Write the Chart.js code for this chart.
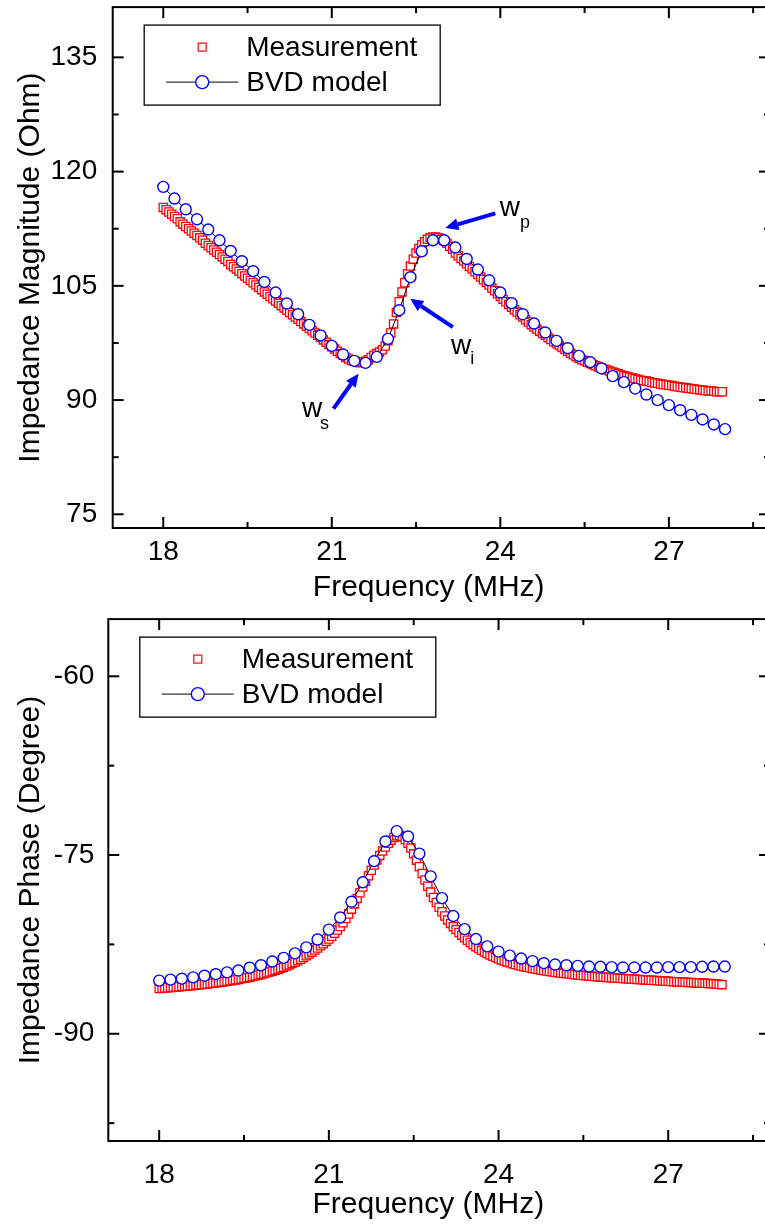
<!DOCTYPE html>
<html>
<head>
<meta charset="utf-8">
<script src="https://cdn.jsdelivr.net/npm/chart.js@4.4.1/dist/chart.umd.min.js"></script>
<style>
  html, body { margin: 0; padding: 0; background: #fff; overflow: hidden; }
  #wrap { width: 765px; height: 1224px; overflow: hidden; position: relative; }
  canvas { display: block; position: absolute; left: 0; }
</style>
</head>
<body>
<div id="wrap">
  <canvas id="magChart" width="780" height="612" style="top:0"></canvas>
  <canvas id="phaseChart" width="780" height="612" style="top:612px"></canvas>
</div>
<script>
const FONT = "'Liberation Sans', Arial, Helvetica, sans-serif";

// measured sweep: 18.00 .. 27.95 MHz, 0.05 MHz apart
const measStart = 18.0;
const measStep = 0.05;

// BVD model evaluated every 0.2 MHz
const modelFreq = [18.0, 18.2, 18.4, 18.6, 18.8, 19.0, 19.2, 19.4, 19.6, 19.8,
  20.0, 20.2, 20.4, 20.6, 20.8, 21.0, 21.2, 21.4, 21.6, 21.8,
  22.0, 22.2, 22.4, 22.6, 22.8, 23.0, 23.2, 23.4, 23.6, 23.8,
  24.0, 24.2, 24.4, 24.6, 24.8, 25.0, 25.2, 25.4, 25.6, 25.8,
  26.0, 26.2, 26.4, 26.6, 26.8, 27.0, 27.2, 27.4, 27.6, 27.8, 28.0];

// |Z| in Ohm
const magMeasured = [
  115.3, 115.0, 114.7, 114.4, 114.1, 113.8, 113.4, 113.1, 112.8, 112.5,
  112.2, 111.9, 111.6, 111.3, 111.0, 110.6, 110.3, 110.0, 109.7, 109.4,
  109.1, 108.8, 108.5, 108.2, 107.8, 107.5, 107.2, 106.9, 106.6, 106.3,
  106.0, 105.7, 105.4, 105.1, 104.8, 104.5, 104.2, 103.9, 103.6, 103.3,
  103.0, 102.7, 102.4, 102.1, 101.8, 101.5, 101.2, 100.9, 100.6, 100.3,
  100.0, 99.7, 99.4, 99.1, 98.8, 98.5, 98.2, 97.9, 97.6, 97.3,
  97.0, 96.7, 96.4, 96.1, 95.9, 95.6, 95.4, 95.2, 95.1, 95.0,
  94.9, 95.0, 95.1, 95.3, 95.6, 95.9, 96.1, 96.3, 96.6, 97.1,
  97.8, 98.8, 100.0, 101.5, 102.9, 104.2, 105.4, 106.6, 107.6, 108.5,
  109.3, 109.9, 110.4, 110.8, 111.1, 111.3, 111.4, 111.4, 111.3, 111.1,
  110.9, 110.6, 110.2, 109.8, 109.3, 108.95, 108.6, 108.25, 107.9, 107.55,
  107.2, 106.85, 106.5, 106.15, 105.8, 105.45, 105.1, 104.7, 104.35, 103.95,
  103.6, 103.25, 102.9, 102.55, 102.2, 101.85, 101.55, 101.2, 100.9, 100.55,
  100.25, 99.9, 99.6, 99.3, 99.05, 98.75, 98.5, 98.2, 97.95, 97.65,
  97.4, 97.15, 96.9, 96.65, 96.4, 96.15, 95.95, 95.7, 95.5, 95.3,
  95.15, 94.95, 94.8, 94.65, 94.5, 94.35, 94.2, 94.05, 93.95, 93.8,
  93.7, 93.55, 93.45, 93.3, 93.2, 93.1, 93.0, 92.9, 92.8, 92.7,
  92.6, 92.55, 92.5, 92.4, 92.3, 92.25, 92.2, 92.1, 92.05, 92.0,
  91.95, 91.9, 91.8, 91.75, 91.7, 91.65, 91.6, 91.55, 91.5, 91.45,
  91.4, 91.35, 91.3, 91.25, 91.2, 91.2, 91.15, 91.1, 91.1, 91.1];

const magModel = [
  118.0, 116.46, 115.05, 113.74, 112.39, 110.98, 109.58, 108.23, 106.92, 105.51,
  104.12, 102.68, 101.27, 99.87, 98.48, 97.11, 95.98, 95.14, 94.88, 95.67,
  98.03, 101.8, 106.13, 109.54, 110.98, 110.98, 110.03, 108.53, 107.14, 105.73,
  104.12, 102.72, 101.27, 100.05, 98.87, 97.77, 96.81, 95.8, 94.97, 94.15,
  93.14, 92.35, 91.52, 90.73, 89.99, 89.33, 88.67, 88.06, 87.45, 86.8, 86.18];

// phase in degrees
const phaseMeasured = [
  -86.20, -86.18, -86.16, -86.14, -86.12, -86.10, -86.08, -86.06, -86.04, -86.02,
  -86.00, -85.97, -85.95, -85.92, -85.90, -85.87, -85.85, -85.82, -85.79, -85.76,
  -85.73, -85.70, -85.67, -85.63, -85.60, -85.56, -85.52, -85.48, -85.44, -85.39,
  -85.35, -85.30, -85.25, -85.20, -85.14, -85.08, -85.02, -84.96, -84.89, -84.82,
  -84.75, -84.68, -84.60, -84.51, -84.42, -84.32, -84.22, -84.11, -84.00, -83.88,
  -83.75, -83.61, -83.46, -83.31, -83.15, -82.98, -82.80, -82.62, -82.44, -82.25,
  -82.05, -81.82, -81.57, -81.30, -81.00, -80.68, -80.33, -79.95, -79.54, -79.10,
  -78.64, -78.17, -77.69, -77.21, -76.74, -76.28, -75.84, -75.42, -75.03, -74.66,
  -74.32, -74.02, -73.75, -73.52, -73.38, -73.36, -73.47, -73.70, -74.02, -74.42,
  -74.90, -75.43, -75.98, -76.55, -77.10, -77.62, -78.11, -78.57, -78.99, -79.38,
  -79.76, -80.12, -80.45, -80.74, -81.01, -81.26, -81.50, -81.73, -81.95, -82.15,
  -82.34, -82.52, -82.69, -82.85, -83.00, -83.14, -83.27, -83.39, -83.50, -83.61,
  -83.71, -83.80, -83.89, -83.97, -84.05, -84.12, -84.19, -84.25, -84.31, -84.37,
  -84.42, -84.47, -84.52, -84.57, -84.61, -84.65, -84.69, -84.73, -84.77, -84.80,
  -84.84, -84.87, -84.90, -84.93, -84.96, -84.99, -85.01, -85.04, -85.06, -85.09,
  -85.11, -85.13, -85.15, -85.17, -85.19, -85.21, -85.23, -85.25, -85.27, -85.28,
  -85.30, -85.32, -85.33, -85.35, -85.36, -85.38, -85.39, -85.41, -85.42, -85.44,
  -85.45, -85.47, -85.48, -85.50, -85.51, -85.53, -85.54, -85.56, -85.57, -85.59,
  -85.60, -85.61, -85.63, -85.64, -85.65, -85.67, -85.68, -85.69, -85.70, -85.72,
  -85.73, -85.74, -85.75, -85.77, -85.78, -85.79, -85.81, -85.83, -85.85, -85.88];

const phaseModel = [
  -85.54, -85.46, -85.38, -85.27, -85.13, -85.00, -84.85, -84.69, -84.46, -84.25,
  -83.94, -83.63, -83.25, -82.75, -82.09, -81.26, -80.24, -78.92, -77.29, -75.52,
  -73.86, -72.99, -73.44, -74.88, -76.79, -78.62, -80.12, -81.22, -82.05, -82.67,
  -83.11, -83.44, -83.69, -83.90, -84.08, -84.19, -84.25, -84.30, -84.36, -84.38,
  -84.41, -84.44, -84.44, -84.44, -84.44, -84.41, -84.41, -84.41, -84.38, -84.36, -84.36];

// axis ticks
const xTicks = [18, 21, 24, 27];
const xMinor = [19.5, 22.5, 25.5, 28.5];
const magTicks = [75, 90, 105, 120, 135];
const magMinor = [82.5, 97.5, 112.5, 127.5];
const phaseTicks = [-90, -75, -60];
const phaseMinor = [-97.5, -82.5, -67.5];

// resonance markers on |Z|: arrow tip/tail and label centres in (MHz, Ohm)
const magMarks = [
  { name: 'w', sub: 's', tip: [21.475, 93.46], tail: [21.03, 88.87], at: [20.65, 88.65], subAt: [20.87, 86.82] },
  { name: 'w', sub: 'i', tip: [22.395, 103.29], tail: [23.155, 99.57], at: [23.30, 96.91], subAt: [23.50, 95.33] },
  { name: 'w', sub: 'p', tip: [23.02, 112.6], tail: [23.91, 114.51], at: [24.17, 115.13], subAt: [24.44, 113.29] }
];

const measFreq = magMeasured.map((_, i) => +(measStart + i * measStep).toFixed(2));

function toPoints(xs, ys) {
  return ys.map((v, i) => ({ x: xs[i], y: v }));
}

function strokeLine(ctx, x1, y1, x2, y2) {
  ctx.beginPath();
  ctx.moveTo(x1, y1);
  ctx.lineTo(x2, y2);
  ctx.stroke();
}

// keep the plot box where it is asked to be: no extra room for edge labels
function noPadding(s) {
  s.paddingLeft = 0;
  s.paddingRight = 0;
  s.paddingTop = 0;
  s.paddingBottom = 0;
}

// box frame with inward ticks on all four sides
const framePlugin = {
  id: 'frame',
  afterDatasetsDraw(chart, args, o) {
    const { ctx, chartArea: a } = chart;
    const x = chart.scales.x, y = chart.scales.y;
    ctx.save();
    ctx.strokeStyle = '#000';
    ctx.lineWidth = 2;
    const xt = (vals, len) => vals.forEach(v => {
      const p = x.getPixelForValue(v);
      strokeLine(ctx, p, a.bottom, p, a.bottom - len);
      strokeLine(ctx, p, a.top, p, a.top + len);
    });
    const yt = (vals, len) => vals.forEach(v => {
      const p = y.getPixelForValue(v);
      strokeLine(ctx, a.left, p, a.left + len, p);
      strokeLine(ctx, a.right, p, a.right - len, p);
    });
    xt(o.xMajor, 11); xt(o.xMinor, 6);
    yt(o.yMajor, 11); yt(o.yMinor, 6);
    ctx.strokeRect(a.left, a.top, a.right - a.left, a.bottom - a.top);
    ctx.restore();
  }
};

// framed legend drawn from the dataset styles
const legendPlugin = {
  id: 'boxLegend',
  afterDraw(chart, args, o) {
    const { ctx, chartArea: a } = chart;
    const bx = a.left + o.left, by = a.top + o.top;
    const [model, meas] = chart.data.datasets;
    ctx.save();
    ctx.strokeStyle = '#000';
    ctx.lineWidth = 1.3;
    ctx.strokeRect(bx, by, o.width, o.height);

    const sx = bx + 58;
    const r1 = by + 22, r2 = by + 57;
    // measurement sample
    ctx.fillStyle = '#fff';
    ctx.strokeStyle = meas.pointBorderColor;
    ctx.lineWidth = 1.2;
    ctx.fillRect(sx - 4, r1 - 4, 8, 8);
    ctx.strokeRect(sx - 4, r1 - 4, 8, 8);
    // model sample: line with a circle
    ctx.strokeStyle = model.borderColor;
    ctx.lineWidth = 1;
    strokeLine(ctx, bx + 22, r2, bx + 94, r2);
    ctx.beginPath();
    ctx.arc(sx, r2, 6.5, 0, Math.PI * 2);
    ctx.fillStyle = '#fff';
    ctx.fill();
    ctx.strokeStyle = model.pointBorderColor;
    ctx.lineWidth = 1.4;
    ctx.stroke();

    ctx.fillStyle = '#000';
    ctx.font = '28px ' + FONT;
    ctx.textAlign = 'left';
    ctx.textBaseline = 'middle';
    ctx.fillText(meas.label, bx + 102, r1 + 1);
    ctx.fillText(model.label, bx + 102, r2 + 1);
    ctx.restore();
  }
};

// x axis title, placed under the tick labels
const xTitlePlugin = {
  id: 'xTitle',
  afterDraw(chart, args, o) {
    const { ctx, chartArea: a } = chart;
    ctx.save();
    ctx.fillStyle = '#000';
    ctx.font = '30px ' + FONT;
    ctx.textAlign = 'center';
    ctx.textBaseline = 'middle';
    ctx.fillText(o.text, a.left + o.dx, a.bottom + o.dy);
    ctx.restore();
  }
};

// blue arrows with w_s / w_i / w_p labels
const marksPlugin = {
  id: 'marks',
  afterDatasetsDraw(chart, args, o) {
    if (!o.items) return;
    const { ctx } = chart;
    const x = chart.scales.x, y = chart.scales.y;
    ctx.save();
    o.items.forEach(m => {
      const tx = x.getPixelForValue(m.tip[0]), ty = y.getPixelForValue(m.tip[1]);
      const sx = x.getPixelForValue(m.tail[0]), sy = y.getPixelForValue(m.tail[1]);
      const ang = Math.atan2(ty - sy, tx - sx);
      const head = 13, half = 6;
      const hx = tx - head * Math.cos(ang), hy = ty - head * Math.sin(ang);
      ctx.strokeStyle = '#0000ff';
      ctx.fillStyle = '#0000ff';
      ctx.lineWidth = 4;
      strokeLine(ctx, sx, sy, hx, hy);
      ctx.beginPath();
      ctx.moveTo(tx, ty);
      ctx.lineTo(hx + half * Math.sin(ang), hy - half * Math.cos(ang));
      ctx.lineTo(hx - half * Math.sin(ang), hy + half * Math.cos(ang));
      ctx.closePath();
      ctx.fill();

      ctx.fillStyle = '#000';
      ctx.textAlign = 'center';
      ctx.textBaseline = 'alphabetic';
      ctx.font = '28px ' + FONT;
      ctx.fillText(m.name, x.getPixelForValue(m.at[0]), y.getPixelForValue(m.at[1]) + 7);
      ctx.font = '18px ' + FONT;
      ctx.fillText(m.sub, x.getPixelForValue(m.subAt[0]), y.getPixelForValue(m.subAt[1]) + 5);
    });
    ctx.restore();
  }
};

function makeChart(id, c) {
  return new Chart(document.getElementById(id), {
    type: 'line',
    data: {
      datasets: [
        {
          label: 'BVD model',
          data: toPoints(modelFreq, c.model),
          showLine: true,
          borderColor: '#000',
          borderWidth: 1,
          tension: 0,
          pointStyle: 'circle',
          pointRadius: 5.5,
          pointBorderColor: '#0000ff',
          pointBackgroundColor: '#fff',
          pointBorderWidth: 1.4
        },
        {
          label: 'Measurement',
          data: toPoints(measFreq, c.meas),
          showLine: false,
          pointStyle: 'rect',
          pointRadius: 5.8,
          pointBorderColor: '#ff0000',
          pointBackgroundColor: '#fff',
          pointBorderWidth: 1.3
        }
      ]
    },
    options: {
      responsive: false,
      animation: false,
      devicePixelRatio: 1,
      layout: { padding: { left: 0, top: c.top, right: 10, bottom: 0 } },
      plugins: {
        legend: { display: false },
        tooltip: { enabled: false },
        frame: { xMajor: xTicks, xMinor: xMinor, yMajor: c.yTicks, yMinor: c.yMinor },
        boxLegend: { left: 31.5, top: 18, width: 296, height: 80 },
        xTitle: { text: 'Frequency (MHz)', dx: c.titleDx, dy: c.titleDy },
        marks: { items: c.marks }
      },
      scales: {
        x: {
          type: 'linear',
          min: 17.1,
          max: 28.8,
          grid: { display: false, drawTicks: false },
          border: { display: false },
          afterBuildTicks: s => { s.ticks = xTicks.map(v => ({ value: v })); },
          afterFit: s => { s.height = c.xHeight; noPadding(s); },
          ticks: {
            font: { family: FONT, size: 28 },
            color: '#000',
            padding: c.xPad,
            maxRotation: 0,
            autoSkip: false,
            callback: v => String(v)
          }
        },
        y: {
          type: 'linear',
          min: c.yMin,
          max: c.yMax,
          grid: { display: false, drawTicks: false },
          border: { display: false },
          afterBuildTicks: s => { s.ticks = c.yTicks.map(v => ({ value: v })); },
          afterFit: s => { s.width = c.yWidth; noPadding(s); },
          ticks: {
            font: { family: FONT, size: 28 },
            color: '#000',
            padding: c.yPad,
            autoSkip: false,
            callback: v => String(v)
          },
          title: {
            display: true,
            text: c.yTitle,
            color: '#000',
            font: { family: FONT, size: 30 },
            padding: { top: 13, bottom: 0 }
          }
        }
      }
    },
    plugins: [framePlugin, marksPlugin, legendPlugin, xTitlePlugin]
  });
}

makeChart('magChart', {
  model: magModel, meas: magMeasured,
  yMin: 73.2, yMax: 141.6, yTicks: magTicks, yMinor: magMinor,
  yTitle: 'Impedance Magnitude (Ohm)',
  top: 6, xHeight: 84, xPad: 7, yWidth: 112.7, yPad: 15.5,
  titleDx: 316, titleDy: 60,
  marks: magMarks
});

makeChart('phaseChart', {
  model: phaseModel, meas: phaseMeasured,
  yMin: -99, yMax: -55.2, yTicks: phaseTicks, yMinor: phaseMinor,
  yTitle: 'Impedance Phase (Degree)',
  top: 2.3, xHeight: 83, xPad: 17, yWidth: 108.3, yPad: 14,
  titleDx: 320, titleDy: 64,
  marks: null
});
</script>
</body>
</html>
